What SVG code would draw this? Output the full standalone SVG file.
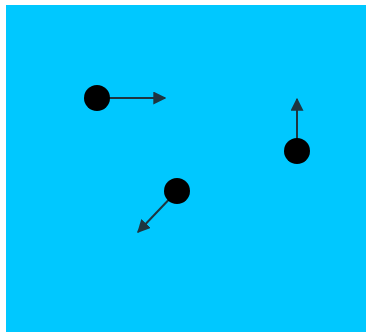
<svg xmlns="http://www.w3.org/2000/svg" width="366" height="332" viewBox="0 0 366 332">
<style>
.dot{fill:#000;}
.vec{stroke:#1e3540;stroke-width:2;fill:none;marker-end:url(#ah);}
</style>
<defs>
<marker id="ah" viewBox="0 0 10 10" refX="9" refY="5" markerWidth="6.5" markerHeight="6.5" markerUnits="strokeWidth" orient="auto">
<path d="M0,0 L10,5 L0,10 z" fill="#1e3540"/>
</marker>
</defs>
<rect x="0" y="0" width="366" height="332" fill="#fff"/>
<rect x="6" y="5" width="360" height="327" fill="#00c8ff"/>
<g id="connectors">
<line class="vec" x1="97" y1="98" x2="165" y2="98"/>
<line class="vec" x1="297" y1="151" x2="297" y2="99"/>
<line class="vec" x1="177" y1="191" x2="138" y2="232"/>
</g>
<g id="node1"><circle class="dot" cx="97" cy="98" r="13"/></g>
<g id="node2"><circle class="dot" cx="297" cy="151" r="13"/></g>
<g id="node3"><circle class="dot" cx="177" cy="191" r="13"/></g>
</svg>
